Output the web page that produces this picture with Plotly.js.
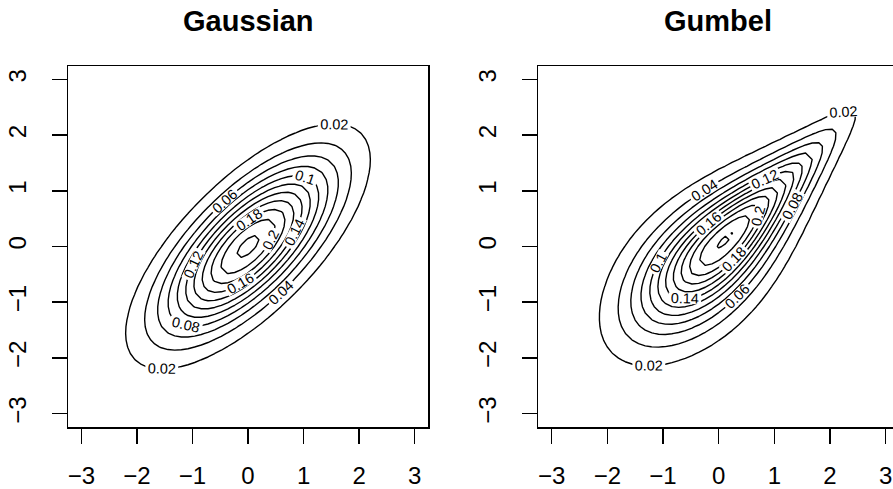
<!DOCTYPE html>
<html>
<head>
<meta charset="utf-8">
<script src="https://cdn.plot.ly/plotly-3.0.1.min.js"></script>
<style>html,body{margin:0;padding:0;background:#fff;}#chart{width:893px;height:489px;}</style>
</head>
<body>
<div id="chart"></div>
<script>
// ---- chart values ----
var panelTitles = ["Gaussian", "Gumbel"];
var tickValues = [-3, -2, -1, 0, 1, 2, 3];
var tickLabels = ["\u22123", "\u22122", "\u22121", "0", "1", "2", "3"];
var gridLimits = [-3, 3];        // evaluation grid limits
var gridCount = [51];            // grid points per axis
var gaussRho = [0.7071];         // Gaussian copula correlation (Kendall tau 0.5)
var gumbelTheta = [2];           // Gumbel copula parameter (Kendall tau 0.5)
var contourLevels = [0.02, 0.30, 0.02]; // start, end, step

// ---- density helpers ----
function erfc(x){
  var z=Math.abs(x), t=1/(1+0.5*z);
  var r=t*Math.exp(-z*z-1.26551223+t*(1.00002368+t*(0.37409196+t*(0.09678418+t*(-0.18628806+t*(0.27886807+t*(-1.13520398+t*(1.48851587+t*(-0.82215223+t*0.17087277)))))))));
  return x>=0 ? r : 2-r;
}
function Phi(x){ return 0.5*erfc(-x/Math.SQRT2); }
function phi(x){ return Math.exp(-0.5*x*x)/Math.sqrt(2*Math.PI); }
function gaussDens(x,y){
  var r=gaussRho[0], d=1-r*r;
  return Math.exp(-(x*x-2*r*x*y+y*y)/(2*d))/(2*Math.PI*Math.sqrt(d));
}
function gumbelDens(x,y){
  var th=gumbelTheta[0];
  var u=Phi(x), v=Phi(y);
  var a=-Math.log(u), b=-Math.log(v);
  var A=Math.pow(a,th)+Math.pow(b,th);
  var w=Math.pow(A,1/th);
  var C=Math.exp(-w);
  var c=C*Math.pow(a*b,th-1)/(u*v)*Math.pow(A,1/th-2)*(w+th-1);
  return c*phi(x)*phi(y);
}
var grid=[];
for(var i=0;i<gridCount[0];i++) grid.push(gridLimits[0]+(gridLimits[1]-gridLimits[0])*i/(gridCount[0]-1));
function zgrid(f){
  var z=[];
  for(var j=0;j<grid.length;j++){ var row=[]; for(var i=0;i<grid.length;i++) row.push(f(grid[i],grid[j])); z.push(row); }
  return z;
}

var FONT="Liberation Sans, Arial, Helvetica, sans-serif";
function contourTrace(z,xa,ya){
  return {
    type:"contour", x:grid, y:grid, z:z, xaxis:xa, yaxis:ya,
    showscale:false, hoverinfo:"skip",
    contours:{start:contourLevels[0], end:contourLevels[1], size:contourLevels[2], coloring:"none",
      showlabels:true, labelformat:".3~g", labelfont:{family:FONT,size:14.4,color:"#000"}},
    line:{color:"#000", width:1.4, smoothing:0}
  };
}
var traces=[contourTrace(zgrid(gaussDens),"x","y"), contourTrace(zgrid(gumbelDens),"x2","y2")];

function xax(domain,range){
  return {domain:domain, range:range, tickmode:"array", tickvals:tickValues, ticktext:tickLabels,
    ticks:"outside", ticklen:15, tickwidth:1.5, tickcolor:"#000", showline:true, linewidth:1.5, linecolor:"#000",
    mirror:true, showgrid:false, zeroline:false, tickfont:{family:FONT,size:24,color:"#000"}, ticklabelstandoff:12, fixedrange:true};
}
function yax(domain,anchor,mirror){
  return {domain:domain, range:[-3.24,3.24], anchor:anchor, tickmode:"array", tickvals:tickValues, ticktext:tickLabels,
    tickangle:-90, ticks:"outside", ticklen:15, tickwidth:1.5, tickcolor:"#000", showline:true, linewidth:1.5, linecolor:"#000",
    mirror:mirror, showgrid:false, zeroline:false, tickfont:{family:FONT,size:24,color:"#000"}, ticklabelstandoff:16, fixedrange:true};
}
var ydom=[62/489, 423/489];
var layout={
  width:893, height:489, margin:{l:0,r:0,t:0,b:0}, paper_bgcolor:"#fff", plot_bgcolor:"#fff", showlegend:false,
  xaxis:Object.assign(xax([68/893,428/893],[-3.24,3.24]),{anchor:"y"}),
  yaxis:yax(ydom,"x",true),
  xaxis2:Object.assign(xax([538/893,1],[-3.246,3.131]),{anchor:"y2"}),
  yaxis2:yax(ydom,"x2",false),
  annotations:[
    {text:"<b>"+panelTitles[0]+"</b>", xref:"paper", yref:"paper", x:248/893, y:(489-21)/489, xanchor:"center", yanchor:"middle", showarrow:false, font:{family:FONT,size:29,color:"#000"}},
    {text:"<b>"+panelTitles[1]+"</b>", xref:"paper", yref:"paper", x:718.4/893, y:(489-21)/489, xanchor:"center", yanchor:"middle", showarrow:false, font:{family:FONT,size:29,color:"#000"}}
  ]
};
Plotly.newPlot("chart", traces, layout, {displayModeBar:false, staticPlot:true});
</script>
</body>
</html>
